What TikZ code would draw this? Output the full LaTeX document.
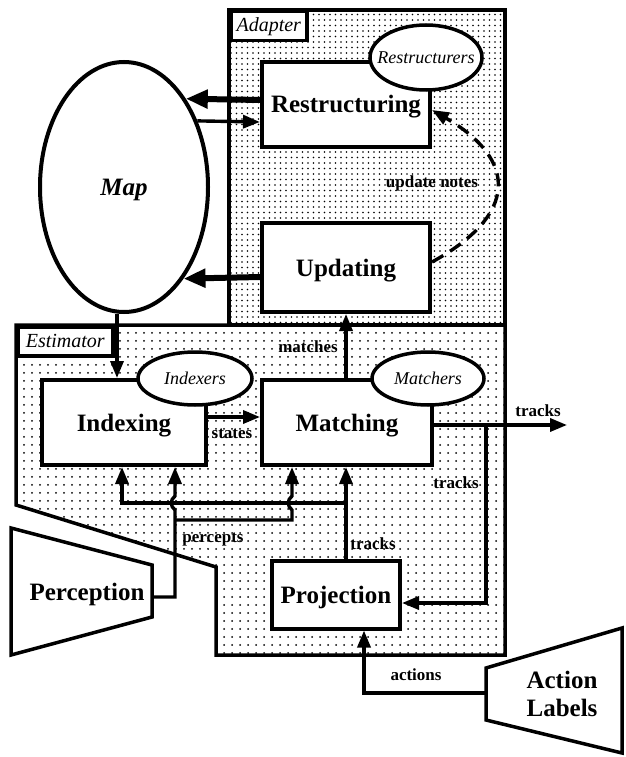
\documentclass[tikz,border=0pt]{standalone}
\usepackage{fontspec}
\setmainfont{Liberation Serif}
\usepackage{tikz}
\usetikzlibrary{shapes.geometric}
\usetikzlibrary{arrows.meta}
\usetikzlibrary{patterns.meta}

\begin{document}
\begin{tikzpicture}[x=1pt, y=-1pt,
    title/.style={inner sep=0pt, font=\fontsize{25}{28}\selectfont\bfseries},
    box/.style={title, draw, line width=4pt, fill=white, text height=17pt, text depth=0pt},
    agent/.style={draw, ellipse, line width=3.5pt, fill=white, inner sep=0pt,
        minimum height=53pt, font=\fontsize{18}{20}\selectfont\itshape},
    tag/.style={draw, line width=3.5pt, fill=white, anchor=north west, inner sep=0pt,
        font=\fontsize{20}{22}\selectfont\itshape},
    lbl/.style={inner sep=0pt, font=\fontsize{17}{19}\selectfont\bfseries},
    wire/.style={line width=3.4pt},
    conn/.style={wire, -{Triangle[length=17pt,width=13pt]}},
    fat/.style={line width=6pt, -{Triangle[length=22pt,width=18pt]}}]

    \useasboundingbox (0,0) rectangle (625,757);

    \draw[line width=3.5pt, pattern={Dots[distance=5.5pt,radius=0.9pt]}]
        (229,10) rectangle (505,325);
    \draw[line width=3.5pt, pattern={Dots[distance=8pt,radius=1pt]}]
        (16,325) -- (505,325) -- (505,655) -- (216,655) -- (216,567) -- (16,505) -- cycle;
    \node[tag, minimum width=76pt, minimum height=29pt] (adapter) at (229,10) {Adapter};
    \node[tag, minimum width=95pt, minimum height=29pt] (estimator) at (16,325) {Estimator};

    \node[draw, ellipse, line width=4pt, fill=white, minimum width=168pt, minimum height=250pt,
        inner sep=0pt, text height=17pt, text depth=0pt,
        font=\fontsize{25}{28}\selectfont\bfseries\itshape] (map) at (124,187) {Map};

    \node[box, minimum width=168pt, minimum height=85pt] (restr) at (346,104.5) {Restructuring};
    \node[box, minimum width=168pt, minimum height=89pt] (upd) at (346,267.5) {Updating};
    \node[box, minimum width=164pt, minimum height=85pt] (idx) at (124,422.5) {Indexing};
    \node[box, minimum width=170pt, minimum height=85pt] (match) at (347,422.5) {Matching};
    \node[box, minimum width=128pt, minimum height=68pt] (proj) at (336,594.5) {Projection};

    \node[agent, minimum width=112pt, minimum height=65pt] (restrs) at (426,57.5) {\makebox[0pt]{Restructurers}};
    \node[agent, minimum width=114pt] (idxs) at (195,378.5) {Indexers};
    \node[agent, minimum width=112pt] (matchs) at (428,378.5) {Matchers};

    \draw[line width=3.5pt] (11,528) -- (152,565) -- (152,617) -- (11,655) -- cycle;
    \node[title, text height=17pt, text depth=0pt] (perc) at (87,591.5) {Perception};
    \draw[line width=3.5pt] (486,668) -- (622,628) -- (622,753) -- (486,720) -- cycle;
    \node[title, align=center] (act) at (562,694) {Action\\Labels};

    \draw[fat] (restr.west |- 0,100) -- (map.55);
    \draw[conn] (map.42) -- (restr.west |- 0,122);
    \draw[fat] (upd.west |- 0,277) -- (map.-57);
    \draw[conn, dash pattern=on 13pt off 8pt] (upd.east |- 0,262)
        .. controls (518,215) and (518,160) .. (restr.east |- 0,110);
    \node[lbl] (notes) at (432,183) {update notes};

    \draw[conn] ([xshift=-7pt]map.south) -- ([xshift=-7pt]idx.north);
    \draw[conn] (match.north -| 346,0) -- (upd.south -| 346,0);
    \node[lbl] (matches) at (308,347) {matches};
    \draw[conn] (idx.east |- 0,417) -- (match.west |- 0,417);
    \node[lbl] (states) at (232,434) {states};

    \coordinate (out) at (567,425);
    \coordinate (split) at (486,425);
    \draw[conn] (match.east |- out) -- (out);
    \node[lbl] (tracksout) at (538,411) {tracks};
    \draw[conn] (split) |- (proj.east |- 0,603);
    \node[lbl] (tracksback) at (456,483) {tracks};
    \draw[conn] (proj.north -| 346,0) -- (match.south -| 346,0);
    \node[lbl] (tracksup) at (373,544) {tracks};
    \coordinate (tjoin) at (346,503);
    \draw[conn] (tjoin) -| (idx.south -| 122,0);

    \coordinate (pout) at (152,597);
    \coordinate (pjoin) at (175,520);
    \draw[conn] (pout) -| (pjoin) -- (175,510)
        .. controls (170,506) and (170,500) .. (175,496) -- (idx.south -| 175,0);
    \draw[conn] (pjoin) -- (292,520) -- (292,510)
        .. controls (287,506) and (287,500) .. (292,496) -- (match.south -| 292,0);
    \node[lbl] (percepts) at (213,540) {percepts};

    \coordinate (ain) at (486,693);
    \draw[conn] (ain) -| (proj.south -| 364,0);
    \node[lbl] (actions) at (416,675) {actions};
\end{tikzpicture}
\end{document}
